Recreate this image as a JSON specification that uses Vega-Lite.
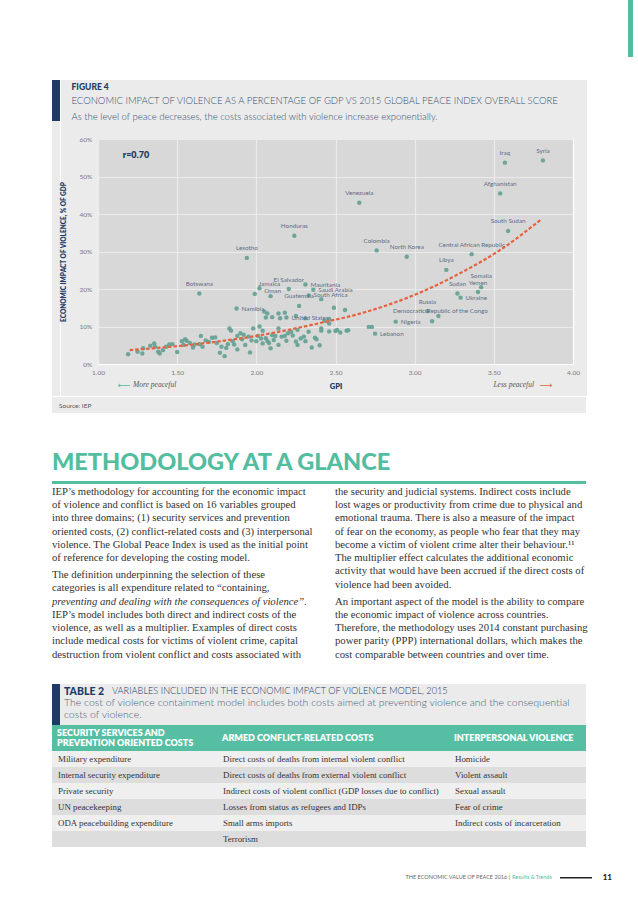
{
  "$schema": "https://vega.github.io/schema/vega-lite/v6.json",
  "background": "#ffffff",
  "padding": {"left": 52, "top": 0, "right": 0, "bottom": 0},
  "spacing": 0,
  "config": {
    "view": {"stroke": null},
    "font": "Lato",
    "axis": {"labelFont": "Lato", "titleFont": "Lato"},
    "title": {"font": "Lato"}
  },
  "datasets": {
    "points": [
      {"country": "Iraq", "gpi": 3.57, "pct": 53.7},
      {"country": "Syria", "gpi": 3.81, "pct": 54.3},
      {"country": "Afghanistan", "gpi": 3.54, "pct": 45.5},
      {"country": "Venezuela", "gpi": 2.65, "pct": 43.0},
      {"country": "South Sudan", "gpi": 3.59, "pct": 35.5},
      {"country": "Colombia", "gpi": 2.76, "pct": 30.3},
      {"country": "North Korea", "gpi": 2.95, "pct": 28.6},
      {"country": "Central African Republic", "gpi": 3.36, "pct": 29.3},
      {"country": "Libya", "gpi": 3.2, "pct": 25.1},
      {"country": "Somalia", "gpi": 3.42, "pct": 20.5},
      {"country": "Yemen", "gpi": 3.4, "pct": 19.2},
      {"country": "Sudan", "gpi": 3.27, "pct": 18.8},
      {"country": "Ukraine", "gpi": 3.29, "pct": 17.7},
      {"country": "Russia", "gpi": 3.08, "pct": 14.1},
      {"country": "Democratic Republic of the Congo", "gpi": 3.15, "pct": 12.8},
      {"country": "Nigeria", "gpi": 2.88, "pct": 11.3},
      {"country": "Lebanon", "gpi": 2.75, "pct": 8.1},
      {"country": "Honduras", "gpi": 2.24, "pct": 34.2},
      {"country": "Lesotho", "gpi": 1.94, "pct": 28.3},
      {"country": "Botswana", "gpi": 1.64, "pct": 18.8},
      {"country": "Namibia", "gpi": 1.875, "pct": 14.8},
      {"country": "Jamaica", "gpi": 2.02, "pct": 20.2},
      {"country": "Oman", "gpi": 2.09, "pct": 18.1},
      {"country": "El Salvador", "gpi": 2.205, "pct": 20.0},
      {"country": "Mauritania", "gpi": 2.31, "pct": 21.2},
      {"country": "Saudi Arabia", "gpi": 2.36, "pct": 19.8},
      {"country": "South Africa", "gpi": 2.33, "pct": 18.3},
      {"country": "Guatemala", "gpi": 2.27, "pct": 15.5},
      {"country": "United States", "gpi": 2.19, "pct": 12.4},
      {"gpi": 1.19, "pct": 2.6}, {"gpi": 1.25, "pct": 3.3}, {"gpi": 1.28, "pct": 2.8}, {"gpi": 1.285, "pct": 4.2},
      {"gpi": 1.33, "pct": 4.9}, {"gpi": 1.355, "pct": 5.5}, {"gpi": 1.36, "pct": 4.6}, {"gpi": 1.38, "pct": 3.3},
      {"gpi": 1.39, "pct": 2.8}, {"gpi": 1.41, "pct": 3.7}, {"gpi": 1.43, "pct": 4.6}, {"gpi": 1.45, "pct": 5.2},
      {"gpi": 1.47, "pct": 5.3}, {"gpi": 1.5, "pct": 3.2}, {"gpi": 1.53, "pct": 6.1}, {"gpi": 1.54, "pct": 5.1},
      {"gpi": 1.55, "pct": 6.6}, {"gpi": 1.56, "pct": 6.2}, {"gpi": 1.58, "pct": 5.6}, {"gpi": 1.6, "pct": 4.4},
      {"gpi": 1.61, "pct": 5.2}, {"gpi": 1.64, "pct": 5.3}, {"gpi": 1.65, "pct": 7.5}, {"gpi": 1.66, "pct": 4.6},
      {"gpi": 1.68, "pct": 6.3}, {"gpi": 1.7, "pct": 5.9}, {"gpi": 1.72, "pct": 7.0}, {"gpi": 1.74, "pct": 7.1},
      {"gpi": 1.75, "pct": 5.6}, {"gpi": 1.77, "pct": 3.0}, {"gpi": 1.78, "pct": 4.6}, {"gpi": 1.8, "pct": 2.1},
      {"gpi": 1.81, "pct": 4.3}, {"gpi": 1.82, "pct": 5.3}, {"gpi": 1.83, "pct": 9.5}, {"gpi": 1.84, "pct": 8.9},
      {"gpi": 1.85, "pct": 6.1}, {"gpi": 1.86, "pct": 5.2}, {"gpi": 1.88, "pct": 7.5}, {"gpi": 1.88, "pct": 3.9},
      {"gpi": 1.9, "pct": 8.2}, {"gpi": 1.91, "pct": 6.6}, {"gpi": 1.92, "pct": 7.8}, {"gpi": 1.93, "pct": 5.1},
      {"gpi": 1.95, "pct": 7.3}, {"gpi": 1.96, "pct": 3.1}, {"gpi": 1.97, "pct": 6.3}, {"gpi": 1.98, "pct": 9.5},
      {"gpi": 2.0, "pct": 6.1}, {"gpi": 2.01, "pct": 7.5}, {"gpi": 2.02, "pct": 10.0}, {"gpi": 2.03, "pct": 6.8},
      {"gpi": 2.04, "pct": 8.9}, {"gpi": 2.04, "pct": 5.5}, {"gpi": 2.06, "pct": 6.9}, {"gpi": 2.07, "pct": 6.1},
      {"gpi": 2.08, "pct": 5.6}, {"gpi": 2.09, "pct": 4.2}, {"gpi": 2.1, "pct": 7.7}, {"gpi": 2.11, "pct": 6.4},
      {"gpi": 2.12, "pct": 7.5}, {"gpi": 2.14, "pct": 9.5}, {"gpi": 2.14, "pct": 5.1}, {"gpi": 2.16, "pct": 7.3},
      {"gpi": 2.18, "pct": 7.5}, {"gpi": 2.19, "pct": 6.2}, {"gpi": 2.2, "pct": 8.2}, {"gpi": 2.22, "pct": 8.6},
      {"gpi": 2.23, "pct": 7.6}, {"gpi": 2.25, "pct": 6.0}, {"gpi": 2.26, "pct": 9.1}, {"gpi": 2.26, "pct": 5.1},
      {"gpi": 2.28, "pct": 6.8}, {"gpi": 2.3, "pct": 7.3}, {"gpi": 2.31, "pct": 6.1}, {"gpi": 2.33, "pct": 8.6},
      {"gpi": 2.35, "pct": 4.4}, {"gpi": 2.37, "pct": 7.0}, {"gpi": 2.38, "pct": 6.6}, {"gpi": 2.4, "pct": 5.0},
      {"gpi": 1.99, "pct": 18.7}, {"gpi": 2.05, "pct": 14.0}, {"gpi": 2.07, "pct": 13.5}, {"gpi": 2.06, "pct": 12.4},
      {"gpi": 2.1, "pct": 12.5}, {"gpi": 2.14, "pct": 13.5}, {"gpi": 2.18, "pct": 13.7}, {"gpi": 2.15, "pct": 12.2},
      {"gpi": 2.25, "pct": 12.8}, {"gpi": 2.31, "pct": 12.2}, {"gpi": 2.43, "pct": 11.5}, {"gpi": 2.46, "pct": 10.8},
      {"gpi": 2.41, "pct": 9.5}, {"gpi": 2.51, "pct": 9.1},
      {"gpi": 2.41, "pct": 8.9}, {"gpi": 2.46, "pct": 8.7}, {"gpi": 2.5, "pct": 8.8}, {"gpi": 2.53, "pct": 8.4},
      {"gpi": 2.57, "pct": 8.9}, {"gpi": 2.58, "pct": 9.0}, {"gpi": 2.49, "pct": 15.0}, {"gpi": 2.56, "pct": 14.4},
      {"gpi": 2.46, "pct": 12.0}, {"gpi": 2.41, "pct": 17.3}, {"gpi": 2.71, "pct": 9.9}, {"gpi": 2.73, "pct": 9.9},
      {"gpi": 3.11, "pct": 11.4}
    ],
    "trend": [
      {"gpi": 1.2, "pct": 3.7}, {"gpi": 1.6, "pct": 5.2}, {"gpi": 2.0, "pct": 7.5}, {"gpi": 2.4, "pct": 10.9},
      {"gpi": 2.66, "pct": 13.5}, {"gpi": 3.02, "pct": 18.8}, {"gpi": 3.3, "pct": 24.5}, {"gpi": 3.54, "pct": 30.4},
      {"gpi": 3.8, "pct": 38.6}
    ],
    "body": [
      {"col": "left", "para": 1, "line": 0, "text": "IEP’s methodology for accounting for the economic impact"},
      {"col": "left", "para": 1, "line": 1, "text": "of violence and conflict is based on 16 variables grouped"},
      {"col": "left", "para": 1, "line": 2, "text": "into three domains; (1) security services and prevention"},
      {"col": "left", "para": 1, "line": 3, "text": "oriented costs, (2) conflict-related costs and (3) interpersonal"},
      {"col": "left", "para": 1, "line": 4, "text": "violence. The Global Peace Index is used as the initial point"},
      {"col": "left", "para": 1, "line": 5, "text": "of reference for developing the costing model."},
      {"col": "left", "para": 2, "line": 6, "text": "The definition underpinning the selection of these"},
      {"col": "left", "para": 2, "line": 7, "text": "categories is all expenditure related to “containing,"},
      {"col": "left", "para": 2, "line": 8, "text": "preventing and dealing with the consequences of violence”."},
      {"col": "left", "para": 2, "line": 9, "text": "IEP’s model includes both direct and indirect costs of the"},
      {"col": "left", "para": 2, "line": 10, "text": "violence, as well as a multiplier. Examples of direct costs"},
      {"col": "left", "para": 2, "line": 11, "text": "include medical costs for victims of violent crime, capital"},
      {"col": "left", "para": 2, "line": 12, "text": "destruction from violent conflict and costs associated with"},
      {"col": "right", "para": 1, "line": 0, "text": "the security and judicial systems. Indirect costs include"},
      {"col": "right", "para": 1, "line": 1, "text": "lost wages or productivity from crime due to physical and"},
      {"col": "right", "para": 1, "line": 2, "text": "emotional trauma. There is also a measure of the impact"},
      {"col": "right", "para": 1, "line": 3, "text": "of fear on the economy, as people who fear that they may"},
      {"col": "right", "para": 1, "line": 4, "text": "become a victim of violent crime alter their behaviour.¹¹"},
      {"col": "right", "para": 1, "line": 5, "text": "The multiplier effect calculates the additional economic"},
      {"col": "right", "para": 1, "line": 6, "text": "activity that would have been accrued if the direct costs of"},
      {"col": "right", "para": 1, "line": 7, "text": "violence had been avoided."},
      {"col": "right", "para": 2, "line": 8, "text": "An important aspect of the model is the ability to compare"},
      {"col": "right", "para": 2, "line": 9, "text": "the economic impact of violence across countries."},
      {"col": "right", "para": 2, "line": 10, "text": "Therefore, the methodology uses 2014 constant purchasing"},
      {"col": "right", "para": 2, "line": 11, "text": "power parity (PPP) international dollars, which makes the"},
      {"col": "right", "para": 2, "line": 12, "text": "cost comparable between countries and over time."}
    ],
    "tableRows": [
      {"row": 1, "security": "Military expenditure", "conflict": "Direct costs of deaths from internal violent conflict", "interpersonal": "Homicide"},
      {"row": 2, "security": "Internal security expenditure", "conflict": "Direct costs of deaths from external violent conflict", "interpersonal": "Violent assault"},
      {"row": 3, "security": "Private security", "conflict": "Indirect costs of violent conflict (GDP losses due to conflict)", "interpersonal": "Sexual assault"},
      {"row": 4, "security": "UN peacekeeping", "conflict": "Losses from status as refugees and IDPs", "interpersonal": "Fear of crime"},
      {"row": 5, "security": "ODA peacebuilding expenditure", "conflict": "Small arms imports", "interpersonal": "Indirect costs of incarceration"},
      {"row": 6, "security": "", "conflict": "Terrorism", "interpersonal": ""}
    ],
    "tableHeader": [
      {"key": "security", "label": "SECURITY SERVICES AND\nPREVENTION ORIENTED COSTS"},
      {"key": "conflict", "label": "ARMED CONFLICT-RELATED COSTS"},
      {"key": "interpersonal", "label": "INTERPERSONAL VIOLENCE"}
    ]
  },
  "vconcat": [
    {
      "hconcat": [
        {"width": 576, "height": 80, "data": {"values": []}, "mark": "point"},
        {"width": 5, "height": 57, "data": {"values": []}, "mark": "point", "view": {"fill": "#4fbf9f"}}
      ],
      "spacing": 0
    },
    {
      "vconcat": [
        {
          "hconcat": [
            {
              "vconcat": [
                {"width": 8, "height": 41, "data": {"values": []}, "mark": "point", "view": {"fill": "#1d3b66"}},
                {"width": 8, "height": 275, "data": {"values": []}, "mark": "point", "view": {"fill": "#ebebeb"}}
              ],
              "spacing": 0
            },
            {
              "width": 526,
              "height": 316,
              "view": {"fill": "#ebebeb"},
              "title": {
                "text": "FIGURE 4",
                "subtitle": ["ECONOMIC IMPACT OF VIOLENCE AS A PERCENTAGE OF GDP VS 2015 GLOBAL PEACE  INDEX OVERALL SCORE", "As the level of peace decreases, the costs associated with violence increase exponentially."],
                "anchor": "start", "frame": "group", "offset": -41.2, "dx": 10.5,
                "font": "Lato", "fontSize": 8.5, "fontWeight": 900, "color": "#1d3b66",
                "subtitleFont": "Lato", "subtitleFontSize": 9.5, "subtitleFontWeight": 300, "subtitleColor": "#34506f",
                "subtitleLineHeight": 16, "subtitlePadding": 3.9
              },
              "resolve": {"axis": {"x": "independent", "y": "independent"}},
              "layer": [
                {
                  "data": {"values": [{}]},
                  "mark": {"type": "rect", "color": "#000000", "opacity": 0.08},
                  "encoding": {
                    "x": {"datum": 1, "type": "quantitative",
                      "scale": {"domain": [1, 4], "range": [37, 512], "nice": false, "zero": false},
                      "axis": {"orient": "top", "values": [1, 1.5, 2, 2.5, 3, 3.5, 4], "grid": true, "gridColor": "#ffffff", "gridWidth": 1.2, "labels": false, "ticks": false, "domain": false, "title": null}},
                    "x2": {"datum": 4},
                    "y": {"datum": 0, "type": "quantitative",
                      "scale": {"domain": [0, 60], "range": [284, 59], "nice": false, "zero": false},
                      "axis": {"orient": "left", "offset": -37, "values": [0, 10, 20, 30, 40, 50, 60], "labelExpr": "datum.value + '%'",
                        "grid": true, "gridColor": "#ffffff", "gridWidth": 1.2, "domain": false, "ticks": false,
                        "labelFontSize": 6.5, "labelColor": "#7a7a7a", "labelPadding": 6.3, "labelFlush": false, "labelOverlap": false,
                        "minExtent": 0, "maxExtent": 200,
                        "title": "ECONOMIC IMPACT OF VIOLENCE, % OF GDP", "titleFontSize": 6.5, "titleFontWeight": 800, "titleColor": "#1d3b66", "titlePadding": 12.3}},
                    "y2": {"datum": 60}
                  }
                },
                {
                  "data": {"name": "points"},
                  "mark": {"type": "circle", "size": 20, "color": "#63a094", "opacity": 0.9},
                  "encoding": {
                    "x": {"field": "gpi", "type": "quantitative",
                      "scale": {"domain": [1, 4], "range": [37, 512], "nice": false, "zero": false},
                      "axis": {"orient": "bottom", "offset": -32, "values": [1, 1.5, 2, 2.5, 3, 3.5, 4], "format": ".2f", "grid": false, "domain": false, "ticks": false,
                        "labelFontSize": 6.5, "labelColor": "#7a7a7a", "labelPadding": 5.75, "labelFlush": false, "labelOverlap": false,
                        "title": "GPI", "titleFontSize": 7.5, "titleFontWeight": 800, "titleColor": "#1d3b66", "titlePadding": 6.5}},
                    "y": {"field": "pct", "type": "quantitative",
                      "scale": {"domain": [0, 60], "range": [284, 59], "nice": false, "zero": false}, "axis": null}
                  }
                },
                {
                  "data": {"name": "trend"},
                  "mark": {"type": "line", "color": "#e4633f", "strokeWidth": 2.2, "strokeDash": [3.5, 2], "interpolate": "monotone"},
                  "encoding": {
                    "x": {"field": "gpi", "type": "quantitative", "scale": {"domain": [1, 4], "range": [37, 512], "nice": false, "zero": false}, "axis": null},
                    "y": {"field": "pct", "type": "quantitative", "scale": {"domain": [0, 60], "range": [284, 59], "nice": false, "zero": false}, "axis": null}
                  }
                },
                {
                  "data": {"name": "points"},
                  "transform": [{"filter": {"field": "country", "oneOf": ["Iraq", "Syria", "Afghanistan", "Venezuela", "South Sudan", "Colombia", "North Korea", "Central African Republic", "Libya", "Yemen", "Sudan", "Russia", "Honduras", "Lesotho", "Botswana", "Guatemala", "El Salvador"]}}],
                  "mark": {"type": "text", "align": "center", "baseline": "middle", "dy": -9.5, "font": "Lato", "fontSize": 6.3, "color": "#5d6e86"},
                  "encoding": {
                    "x": {"field": "gpi", "type": "quantitative", "scale": {"domain": [1, 4], "range": [37, 512], "nice": false, "zero": false}, "axis": null},
                    "y": {"field": "pct", "type": "quantitative", "scale": {"domain": [0, 60], "range": [284, 59], "nice": false, "zero": false}, "axis": null},
                    "text": {"field": "country"}
                  }
                },
                {
                  "data": {"name": "points"},
                  "transform": [{"filter": {"field": "country", "oneOf": ["Somalia"]}}],
                  "mark": {"type": "text", "align": "center", "baseline": "middle", "dy": -11.5, "font": "Lato", "fontSize": 6.3, "color": "#5d6e86"},
                  "encoding": {
                    "x": {"field": "gpi", "type": "quantitative", "scale": {"domain": [1, 4], "range": [37, 512], "nice": false, "zero": false}, "axis": null},
                    "y": {"field": "pct", "type": "quantitative", "scale": {"domain": [0, 60], "range": [284, 59], "nice": false, "zero": false}, "axis": null},
                    "text": {"field": "country"}
                  }
                },
                {
                  "data": {"name": "points"},
                  "transform": [{"filter": {"field": "country", "oneOf": ["Oman", "Democratic Republic of the Congo"]}}],
                  "mark": {"type": "text", "align": "center", "baseline": "middle", "dx": 2, "dy": -5, "font": "Lato", "fontSize": 6.3, "color": "#5d6e86"},
                  "encoding": {
                    "x": {"field": "gpi", "type": "quantitative", "scale": {"domain": [1, 4], "range": [37, 512], "nice": false, "zero": false}, "axis": null},
                    "y": {"field": "pct", "type": "quantitative", "scale": {"domain": [0, 60], "range": [284, 59], "nice": false, "zero": false}, "axis": null},
                    "text": {"field": "country"}
                  }
                },
                {
                  "data": {"name": "points"},
                  "transform": [{"filter": {"field": "country", "oneOf": ["Ukraine", "Nigeria", "Lebanon", "Namibia", "United States", "Mauritania", "Saudi Arabia", "South Africa"]}}],
                  "mark": {"type": "text", "align": "left", "baseline": "middle", "dx": 5, "font": "Lato", "fontSize": 6.3, "color": "#5d6e86"},
                  "encoding": {
                    "x": {"field": "gpi", "type": "quantitative", "scale": {"domain": [1, 4], "range": [37, 512], "nice": false, "zero": false}, "axis": null},
                    "y": {"field": "pct", "type": "quantitative", "scale": {"domain": [0, 60], "range": [284, 59], "nice": false, "zero": false}, "axis": null},
                    "text": {"field": "country"}
                  }
                },
                {
                  "data": {"name": "points"},
                  "transform": [{"filter": {"field": "country", "oneOf": ["Jamaica"]}}],
                  "mark": {"type": "text", "align": "left", "baseline": "middle", "dx": -1, "dy": -4, "font": "Lato", "fontSize": 6.3, "color": "#5d6e86"},
                  "encoding": {
                    "x": {"field": "gpi", "type": "quantitative", "scale": {"domain": [1, 4], "range": [37, 512], "nice": false, "zero": false}, "axis": null},
                    "y": {"field": "pct", "type": "quantitative", "scale": {"domain": [0, 60], "range": [284, 59], "nice": false, "zero": false}, "axis": null},
                    "text": {"field": "country"}
                  }
                },
                {
                  "data": {"values": [{"label": "r=0.70"}]},
                  "mark": {"type": "text", "align": "left", "baseline": "middle", "font": "Lato", "fontWeight": 800, "fontSize": 9, "color": "#1d3b66"},
                  "encoding": {
                    "x": {"datum": 1.156, "type": "quantitative", "scale": {"domain": [1, 4], "range": [37, 512], "nice": false, "zero": false}, "axis": null},
                    "y": {"datum": 55.7, "type": "quantitative", "scale": {"domain": [0, 60], "range": [284, 59], "nice": false, "zero": false}, "axis": null},
                    "text": {"field": "label"}
                  }
                },
                {
                  "data": {"values": [{"label": "⟵"}]},
                  "mark": {"type": "text", "align": "center", "baseline": "middle", "font": "DejaVu Sans", "fontSize": 9, "color": "#4fbf9f"},
                  "encoding": {
                    "x": {"datum": 1.165, "type": "quantitative", "scale": {"domain": [1, 4], "range": [37, 512], "nice": false, "zero": false}, "axis": null},
                    "y": {"datum": -5.6, "type": "quantitative", "scale": {"domain": [0, 60], "range": [284, 59], "nice": false, "zero": false}, "axis": null},
                    "text": {"field": "label"}
                  }
                },
                {
                  "data": {"values": [{"label": "More peaceful"}]},
                  "mark": {"type": "text", "align": "left", "baseline": "middle", "font": "Liberation Serif", "fontStyle": "italic", "fontSize": 7.5, "color": "#555555"},
                  "encoding": {
                    "x": {"datum": 1.221, "type": "quantitative", "scale": {"domain": [1, 4], "range": [37, 512], "nice": false, "zero": false}, "axis": null},
                    "y": {"datum": -5.6, "type": "quantitative", "scale": {"domain": [0, 60], "range": [284, 59], "nice": false, "zero": false}, "axis": null},
                    "text": {"field": "label"}
                  }
                },
                {
                  "data": {"values": [{"label": "Less peaceful"}]},
                  "mark": {"type": "text", "align": "right", "baseline": "middle", "font": "Liberation Serif", "fontStyle": "italic", "fontSize": 7.5, "color": "#555555"},
                  "encoding": {
                    "x": {"datum": 3.754, "type": "quantitative", "scale": {"domain": [1, 4], "range": [37, 512], "nice": false, "zero": false}, "axis": null},
                    "y": {"datum": -5.6, "type": "quantitative", "scale": {"domain": [0, 60], "range": [284, 59], "nice": false, "zero": false}, "axis": null},
                    "text": {"field": "label"}
                  }
                },
                {
                  "data": {"values": [{"label": "⟶"}]},
                  "mark": {"type": "text", "align": "center", "baseline": "middle", "font": "DejaVu Sans", "fontSize": 9, "color": "#e4633f"},
                  "encoding": {
                    "x": {"datum": 3.83, "type": "quantitative", "scale": {"domain": [1, 4], "range": [37, 512], "nice": false, "zero": false}, "axis": null},
                    "y": {"datum": -5.6, "type": "quantitative", "scale": {"domain": [0, 60], "range": [284, 59], "nice": false, "zero": false}, "axis": null},
                    "text": {"field": "label"}
                  }
                }
              ]
            }
          ],
          "spacing": 0
        },
        {
          "width": 534, "height": 16, "data": {"values": []}, "mark": "point",
          "view": {"fill": "#ebebeb"},
          "title": {"text": "Source: IEP", "anchor": "start", "frame": "group", "offset": -12.7, "dx": 7, "font": "Lato", "fontSize": 6.5, "fontWeight": 400, "color": "#555555"}
        }
      ],
      "spacing": 1
    },
    {"width": 534, "height": 36.9, "data": {"values": []}, "mark": "point"},
    {
      "width": 534, "height": 3, "data": {"values": []}, "mark": "point",
      "view": {"fill": "#52bd9f"},
      "title": {"text": "METHODOLOGY AT A GLANCE", "anchor": "start", "frame": "group", "offset": 6.6, "font": "Lato", "fontSize": 23.5, "fontWeight": 900, "color": "#52bd9f"}
    },
    {
      "width": 534, "height": 172.25,
      "data": {"name": "body"},
      "encoding": {
        "x": {"field": "col", "type": "nominal", "bandPosition": 0, "axis": null,
          "scale": {"type": "band", "domain": ["left", "right"], "paddingInner": 0.113, "paddingOuter": 0}},
        "y": {"field": "line", "type": "quantitative", "axis": null,
          "scale": {"domain": [-0.6, 12.4], "reverse": true, "nice": false, "zero": false}},
        "text": {"field": "text"}
      },
      "layer": [
        {"transform": [{"filter": "datum.para == 1"}],
          "mark": {"type": "text", "align": "left", "baseline": "middle", "font": "Liberation Serif", "fontSize": 10.7, "color": "#333333"}},
        {"transform": [{"filter": "datum.para == 2 && !(datum.col == 'left' && datum.line == 8)"}],
          "mark": {"type": "text", "align": "left", "baseline": "middle", "dy": 3.6, "font": "Liberation Serif", "fontSize": 10.7, "color": "#333333"}},
        {"transform": [{"filter": "datum.col == 'left' && datum.line == 8"}],
          "mark": {"type": "text", "align": "left", "baseline": "middle", "dy": 3.6, "font": "Liberation Serif", "fontStyle": "italic", "fontSize": 10.7, "color": "#333333"}}
      ]
    },
    {"width": 534, "height": 24, "data": {"values": []}, "mark": "point"},
    {
      "hconcat": [
        {"width": 8, "height": 41, "data": {"values": []}, "mark": "point", "view": {"fill": "#1d3b66"}},
        {
          "width": 526, "height": 41, "data": {"values": []}, "mark": "point", "view": {"fill": "#ebebeb"},
          "title": {"text": "VARIABLES INCLUDED IN THE ECONOMIC IMPACT OF VIOLENCE MODEL, 2015", "anchor": "start", "frame": "group", "offset": -12.24, "dx": 52, "font": "Lato", "fontSize": 9.2, "fontWeight": 300, "color": "#1d3b66"}
        }
      ],
      "spacing": 0,
      "title": {
        "text": "TABLE 2",
        "subtitle": ["The cost of violence containment model includes both costs aimed at preventing violence and the consequential", "costs of violence."],
        "anchor": "start", "offset": -36.9, "dx": 12,
        "font": "Lato", "fontSize": 10.5, "fontWeight": 900, "color": "#1d3b66",
        "subtitleFont": "Lato", "subtitleFontSize": 10.5, "subtitleFontWeight": 300, "subtitleColor": "#4b5f78",
        "subtitleLineHeight": 12.5, "subtitlePadding": 0.9
      }
    },
    {
      "hconcat": [
        {
          "width": 165, "height": 26, "view": {"fill": "#56bfa3"},
          "data": {"name": "tableHeader"}, "transform": [{"filter": "datum.key == 'security'"}],
          "mark": {"type": "text", "align": "left", "baseline": "middle", "dx": 5, "dy": -5, "font": "Lato", "fontWeight": 800, "fontSize": 9, "color": "#ffffff", "lineBreak": "\n", "lineHeight": 10},
          "encoding": {"x": {"field": "key", "type": "nominal", "bandPosition": 0, "axis": null, "scale": {"type": "band", "paddingInner": 0, "paddingOuter": 0}}, "text": {"field": "label"}}
        },
        {
          "width": 232, "height": 26, "view": {"fill": "#56bfa3"},
          "data": {"name": "tableHeader"}, "transform": [{"filter": "datum.key == 'conflict'"}],
          "mark": {"type": "text", "align": "left", "baseline": "middle", "dx": 5, "font": "Lato", "fontWeight": 800, "fontSize": 9, "color": "#ffffff", "lineBreak": "\n", "lineHeight": 10},
          "encoding": {"x": {"field": "key", "type": "nominal", "bandPosition": 0, "axis": null, "scale": {"type": "band", "paddingInner": 0, "paddingOuter": 0}}, "text": {"field": "label"}}
        },
        {
          "width": 137, "height": 26, "view": {"fill": "#56bfa3"},
          "data": {"name": "tableHeader"}, "transform": [{"filter": "datum.key == 'interpersonal'"}],
          "mark": {"type": "text", "align": "left", "baseline": "middle", "dx": 5, "font": "Lato", "fontWeight": 800, "fontSize": 9, "color": "#ffffff", "lineBreak": "\n", "lineHeight": 10},
          "encoding": {"x": {"field": "key", "type": "nominal", "bandPosition": 0, "axis": null, "scale": {"type": "band", "paddingInner": 0, "paddingOuter": 0}}, "text": {"field": "label"}}
        }
      ],
      "spacing": 0
    },
    {
      "hconcat": [
        {
          "width": 165, "height": 96,
          "data": {"name": "tableRows"},
          "transform": [{"fold": ["security", "conflict", "interpersonal"], "as": ["key", "value"]}, {"filter": "datum.key == 'security'"}],
          "encoding": {
            "y": {"field": "row", "type": "ordinal", "axis": null, "scale": {"type": "band", "paddingInner": 0, "paddingOuter": 0}}
          },
          "layer": [
            {"mark": {"type": "rect"},
              "encoding": {
                "x": {"field": "key", "type": "nominal", "axis": null, "scale": {"type": "band", "paddingInner": 0, "paddingOuter": 0}},
                "color": {"field": "row", "type": "ordinal", "legend": null, "scale": {"domain": [1, 2, 3, 4, 5, 6], "range": ["#efefef", "#dddddd", "#efefef", "#dddddd", "#efefef", "#dddddd"]}}}},
            {"mark": {"type": "text", "align": "left", "baseline": "middle", "dx": 6, "font": "Liberation Serif", "fontSize": 8.9, "color": "#333333"},
              "encoding": {
                "x": {"field": "key", "type": "nominal", "bandPosition": 0, "axis": null, "scale": {"type": "band", "paddingInner": 0, "paddingOuter": 0}},
                "text": {"field": "value"}}}
          ]
        },
        {
          "width": 232, "height": 96,
          "data": {"name": "tableRows"},
          "transform": [{"fold": ["security", "conflict", "interpersonal"], "as": ["key", "value"]}, {"filter": "datum.key == 'conflict'"}],
          "encoding": {
            "y": {"field": "row", "type": "ordinal", "axis": null, "scale": {"type": "band", "paddingInner": 0, "paddingOuter": 0}}
          },
          "layer": [
            {"mark": {"type": "rect"},
              "encoding": {
                "x": {"field": "key", "type": "nominal", "axis": null, "scale": {"type": "band", "paddingInner": 0, "paddingOuter": 0}},
                "color": {"field": "row", "type": "ordinal", "legend": null, "scale": {"domain": [1, 2, 3, 4, 5, 6], "range": ["#efefef", "#dddddd", "#efefef", "#dddddd", "#efefef", "#dddddd"]}}}},
            {"mark": {"type": "text", "align": "left", "baseline": "middle", "dx": 6, "font": "Liberation Serif", "fontSize": 8.9, "color": "#333333"},
              "encoding": {
                "x": {"field": "key", "type": "nominal", "bandPosition": 0, "axis": null, "scale": {"type": "band", "paddingInner": 0, "paddingOuter": 0}},
                "text": {"field": "value"}}}
          ]
        },
        {
          "width": 137, "height": 96,
          "data": {"name": "tableRows"},
          "transform": [{"fold": ["security", "conflict", "interpersonal"], "as": ["key", "value"]}, {"filter": "datum.key == 'interpersonal'"}],
          "encoding": {
            "y": {"field": "row", "type": "ordinal", "axis": null, "scale": {"type": "band", "paddingInner": 0, "paddingOuter": 0}}
          },
          "layer": [
            {"mark": {"type": "rect"},
              "encoding": {
                "x": {"field": "key", "type": "nominal", "axis": null, "scale": {"type": "band", "paddingInner": 0, "paddingOuter": 0}},
                "color": {"field": "row", "type": "ordinal", "legend": null, "scale": {"domain": [1, 2, 3, 4, 5, 6], "range": ["#efefef", "#dddddd", "#efefef", "#dddddd", "#efefef", "#dddddd"]}}}},
            {"mark": {"type": "text", "align": "left", "baseline": "middle", "dx": 6, "font": "Liberation Serif", "fontSize": 8.9, "color": "#333333"},
              "encoding": {
                "x": {"field": "key", "type": "nominal", "bandPosition": 0, "axis": null, "scale": {"type": "band", "paddingInner": 0, "paddingOuter": 0}},
                "text": {"field": "value"}}}
          ]
        }
      ],
      "spacing": 0
    },
    {"width": 534, "height": 26.6, "data": {"values": []}, "mark": "point"},
    {
      "hconcat": [
        {"width": 458, "height": 1.5, "data": {"values": []}, "mark": "point",
          "title": {"text": "THE ECONOMIC VALUE OF PEACE 2016 |", "anchor": "end", "frame": "group", "offset": -3.8, "font": "Lato", "fontSize": 5.5, "fontWeight": 400, "color": "#666666"}},
        {"width": 50, "height": 1.5, "data": {"values": []}, "mark": "point",
          "title": {"text": "Results & Trends", "anchor": "start", "frame": "group", "dx": 2, "offset": -3.8, "font": "Lato", "fontSize": 5.5, "fontWeight": 400, "color": "#4fbf9f"}},
        {"width": 32, "height": 1.5, "data": {"values": []}, "mark": "point", "view": {"fill": "#222222"}},
        {"width": 20, "height": 1.5, "data": {"values": []}, "mark": "point",
          "title": {"text": "11", "anchor": "end", "frame": "group", "offset": -5.26, "font": "Lato", "fontSize": 8, "fontWeight": 900, "color": "#222222"}}
      ],
      "spacing": 0,
      "bounds": "flush"
    }
  ]
}
